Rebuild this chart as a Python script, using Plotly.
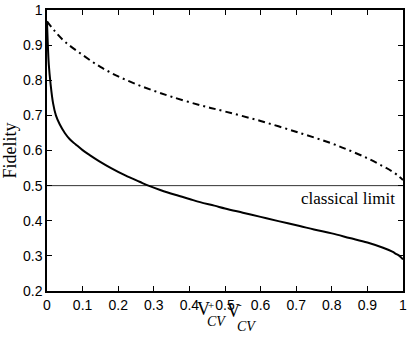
import plotly.graph_objects as go

# Data
x_solid = [0, 0.002, 0.005, 0.01, 0.017, 0.025, 0.036, 0.05, 0.064, 0.08, 0.1, 0.12, 0.146,
           0.18, 0.22, 0.26, 0.285, 0.32, 0.36, 0.4, 0.43, 0.47, 0.5, 0.55, 0.6, 0.65, 0.71,
           0.75, 0.8, 0.85, 0.9, 0.944, 0.97, 0.98, 0.99, 1.0]
y_solid = [0.965, 0.91, 0.845, 0.79, 0.735, 0.70, 0.674, 0.65, 0.632, 0.618, 0.601, 0.587, 0.570,
           0.550, 0.529, 0.511, 0.50, 0.487, 0.474, 0.462, 0.453, 0.443, 0.435, 0.423, 0.411, 0.399, 0.385,
           0.375, 0.364, 0.351, 0.338, 0.323, 0.312, 0.306, 0.300, 0.29]

x_dash = [0, 0.02, 0.05, 0.1, 0.15, 0.2, 0.25, 0.3, 0.35, 0.43, 0.5, 0.6, 0.71, 0.8, 0.85,
          0.9, 0.944, 0.97, 0.99, 1.0]
y_dash = [0.968, 0.942, 0.91, 0.872, 0.838, 0.811, 0.789, 0.770, 0.753, 0.729, 0.711, 0.684, 0.650,
          0.620, 0.600, 0.578, 0.555, 0.540, 0.525, 0.516]

classical_limit = 0.5
x_ticks = [0, 0.1, 0.2, 0.3, 0.4, 0.5, 0.6, 0.7, 0.8, 0.9, 1]
y_ticks = [0.2, 0.3, 0.4, 0.5, 0.6, 0.7, 0.8, 0.9, 1]

L, R, T, B = 47, 6, 10, 48
W, H = 409, 339
pw, ph = W - L - R, H - T - B


def px2paper(px, py):
    return (px - L) / pw, (H - B - py) / ph


fig = go.Figure()
fig.add_trace(go.Scatter(x=[0, 1], y=[classical_limit, classical_limit], mode="lines",
                         line=dict(color="#333333", width=1), hoverinfo="skip"))
fig.add_trace(go.Scatter(x=x_dash, y=y_dash, mode="lines", line_shape="spline",
                         line=dict(color="black", width=2, dash="7px,4px,2px,4px")))
fig.add_trace(go.Scatter(x=x_solid, y=y_solid, mode="lines", line_shape="spline",
                         line=dict(color="black", width=2)))

serif = "Liberation Serif, Times New Roman, serif"
sans = "Liberation Sans, Arial, sans-serif"

annotations = [
    dict(x=0.984, y=classical_limit, xref="x", yref="y", text="classical limit",
         showarrow=False, xanchor="right", yanchor="top", yshift=-1,
         font=dict(family=serif, size=17, color="black")),
]


def add_txt(text, px, py, size, xanchor="left"):
    ax, ay = px2paper(px, py)
    annotations.append(dict(x=ax, y=ay, xref="paper", yref="paper", text=text, showarrow=False,
                            xanchor=xanchor, yanchor="middle",
                            font=dict(family=serif, size=size, color="black")))


# x-axis title pieces: V⁺_CV V⁻_CV
add_txt("V", 195, 309, 18)
add_txt("+", 206, 305, 11)
add_txt("<i>CV</i>", 205, 321, 14)
add_txt("V", 225, 311, 18)
add_txt("-", 236, 304, 11)
add_txt("<i>CV</i>", 235, 326, 14)

fig.update_layout(
    width=W, height=H,
    margin=dict(l=L, r=R, t=T, b=B, autoexpand=False),
    paper_bgcolor="white", plot_bgcolor="white",
    showlegend=False,
    annotations=annotations,
    xaxis=dict(range=[0, 1], tickvals=x_ticks, ticktext=[("%g" % v) for v in x_ticks],
               ticks="inside", ticklen=5, tickwidth=1, tickcolor="black",
               showline=True, linecolor="black", linewidth=1.5, mirror="ticks",
               showgrid=False, zeroline=False, automargin=False,
               tickfont=dict(family=sans, size=14, color="black")),
    yaxis=dict(range=[0.2, 1], tickvals=y_ticks, ticktext=[("%g" % v) for v in y_ticks],
               ticks="inside", ticklen=5, tickwidth=1, tickcolor="black",
               showline=True, linecolor="black", linewidth=1.5, mirror="ticks",
               showgrid=False, zeroline=False, automargin=False,
               tickfont=dict(family=sans, size=14, color="black"),
               title=dict(text="Fidelity", font=dict(family=serif, size=18, color="black"),
                          standoff=2)),
)

fig.write_html("out.html", config={"displayModeBar": False},
               post_script="document.body.style.margin='0';document.body.style.overflow='hidden';")
